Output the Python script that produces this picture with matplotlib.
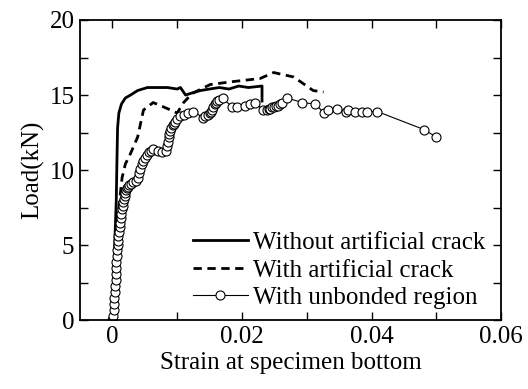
import matplotlib
matplotlib.use('Agg')
from matplotlib import pyplot as plt
from matplotlib.ticker import MultipleLocator

plt.rcParams['font.family'] = ['Liberation Serif', 'DejaVu Serif']

# without artificial crack (solid)
x_solid = [0, 0.0002, 0.0004, 0.0006, 0.0007, 0.0008, 0.0010, 0.0014, 0.0020, 0.0028, 0.0039,
           0.0054, 0.0070, 0.0085, 0.0100, 0.0105, 0.0113, 0.0120, 0.0136, 0.0150,
           0.0165, 0.0180, 0.0195, 0.0210, 0.0231, 0.0231]
y_solid = [0, 2.5, 5.5, 8.0, 10.5, 12.8, 13.8, 14.4, 14.8, 15.0, 15.3,
           15.5, 15.5, 15.5, 15.4, 15.5, 15.0, 15.1, 15.3, 15.4,
           15.5, 15.4, 15.6, 15.5, 15.6, 14.6]

# with artificial crack (dashed)
x_dash = [0, 0.0003, 0.0006, 0.0010, 0.0015, 0.0020, 0.0028, 0.0039, 0.0048, 0.0063, 0.0074,
          0.0090, 0.0100, 0.0110, 0.0123, 0.0151, 0.0187, 0.0228, 0.0249, 0.0280,
          0.0310, 0.0326]
y_dash = [0, 2.5, 5.0, 7.5, 9.5, 10.4, 11.1, 12.2, 14.0, 14.5, 14.3,
          14.0, 13.8, 14.5, 15.1, 15.7, 15.9, 16.1, 16.5, 16.2,
          15.3, 15.2]

# with unbonded region (circles)
x_unb = [0, 0.0001, 0.0002, 0.0003, 0.0003, 0.0004, 0.0004, 0.0005, 0.0005, 0.0006,
         0.0006, 0.0007, 0.0007, 0.0008, 0.0009, 0.0009, 0.0010, 0.0011, 0.0012, 0.0013,
         0.0014, 0.0015, 0.0016, 0.0017, 0.0018, 0.0019, 0.0020, 0.0021, 0.0022, 0.0024,
         0.0025, 0.0028, 0.0032, 0.0036, 0.0039, 0.0041, 0.0043, 0.0045, 0.0048, 0.0050,
         0.0053, 0.0056, 0.0059, 0.0063, 0.0070, 0.0077, 0.0082, 0.0085, 0.0086, 0.0087,
         0.0088, 0.0089, 0.0091, 0.0093, 0.0095, 0.0097, 0.0100, 0.0105, 0.0110, 0.0116,
         0.0125, 0.0140, 0.0143, 0.0147, 0.0150, 0.0152, 0.0154, 0.0156, 0.0158, 0.0160,
         0.0162, 0.0165, 0.0170, 0.0185, 0.0193, 0.0205, 0.0212, 0.0220, 0.0233, 0.0238,
         0.0241, 0.0244, 0.0247, 0.0250, 0.0253, 0.0255, 0.0258, 0.0262, 0.0270, 0.0293,
         0.0313, 0.0327, 0.0333, 0.0346, 0.0360, 0.0364, 0.0375, 0.0386, 0.0393, 0.0409,
         0.0481, 0.0500]
y_unb = [0, 0.3, 0.7, 1.1, 1.5, 1.9, 2.3, 2.7, 3.1, 3.5,
         3.9, 4.3, 4.7, 5.0, 5.3, 5.6, 5.9, 6.2, 6.5, 6.8,
         7.1, 7.4, 7.6, 7.9, 8.1, 8.3, 8.5, 8.7, 8.8, 8.9,
         9.0, 9.1, 9.2, 9.3, 9.5, 9.8, 10.1, 10.4, 10.6, 10.8,
         11.0, 11.2, 11.3, 11.4, 11.3, 11.2, 11.3, 11.6, 11.9, 12.2,
         12.4, 12.6, 12.8, 13.0, 13.1, 13.2, 13.4, 13.6, 13.7, 13.8,
         13.9, 13.5, 13.6, 13.7, 13.8, 13.9, 14.0, 14.2, 14.4, 14.5,
         14.6, 14.7, 14.8, 14.2, 14.2, 14.3, 14.4, 14.5, 14.0, 14.0,
         14.1, 14.1, 14.2, 14.2, 14.3, 14.3, 14.4, 14.5, 14.8, 14.5,
         14.4, 13.8, 14.0, 14.1, 13.9, 14.0, 13.9, 13.9, 13.9, 13.9,
         12.7, 12.2]

fig = plt.figure(figsize=(5.28, 3.89), dpi=100)
ax = fig.add_axes([0.1515, 0.177, 0.7975, 0.7716])

ax.plot(x_solid, y_solid, 'k-', lw=2.0, label='Without artificial crack')
ax.plot(x_dash, y_dash, 'k--', lw=2.0, dashes=(3, 2), label='With artificial crack')
ax.plot(x_unb, y_unb, 'k-', lw=0.8, marker='o', ms=6.5, mfc='white', mec='black',
        mew=0.8, label='With unbonded region')

ax.set_xlim(-0.005, 0.06)
ax.set_ylim(0, 20)
ax.xaxis.set_minor_locator(MultipleLocator(0.01))
ax.yaxis.set_major_locator(MultipleLocator(5))
ax.yaxis.set_minor_locator(MultipleLocator(2.5))
ax.set_xticks([0, 0.02, 0.04, 0.06])
ax.set_xticklabels(['0', '0.02', '0.04', '0.06'])
ax.tick_params(which='both', direction='in', top=True, right=True, labelsize=18, width=1)
ax.tick_params(which='major', length=6, pad=4)
ax.tick_params(which='minor', length=6)
for s in ax.spines.values():
    s.set_linewidth(1.3)

ax.set_xlabel('Strain at specimen bottom', fontsize=18, labelpad=3)
ax.set_ylabel('Load(kN)', fontsize=18, labelpad=4)

ax.legend(loc='lower right', bbox_to_anchor=(0.985, 0.003), frameon=False, fontsize=18,
          handlelength=2.2, handletextpad=0.2, labelspacing=0.2, borderaxespad=0.0)

fig.savefig('out.png', dpi=100)
